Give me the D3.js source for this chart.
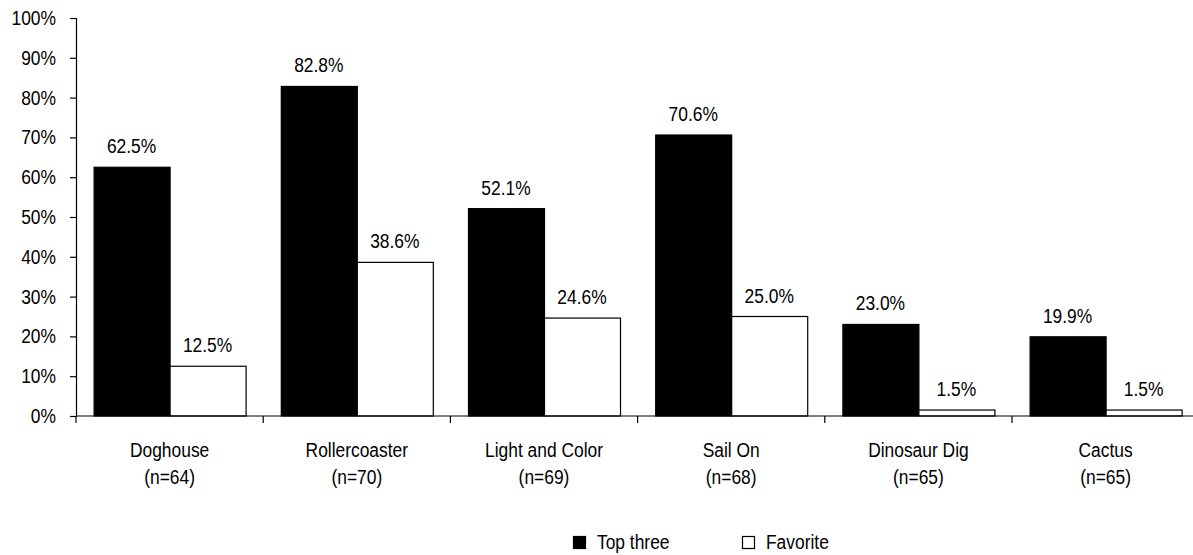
<!DOCTYPE html>
<html>
<head>
<meta charset="utf-8">
<script src="https://cdn.jsdelivr.net/npm/d3@7"></script>
<style>
  html, body { margin: 0; padding: 0; background: #fff; }
  svg text { font-family: "Liberation Sans", Arial, sans-serif; fill: #000; }
</style>
</head>
<body>
<svg id="chart" width="1193" height="555"></svg>
<script>
// Exhibit ratings by activity
const categories = ["Doghouse", "Rollercoaster", "Light and Color", "Sail On", "Dinosaur Dig", "Cactus"];
const sampleSizes = ["(n=64)", "(n=70)", "(n=69)", "(n=68)", "(n=65)", "(n=65)"];
const seriesNames = ["Top three", "Favorite"];
const topThree = [62.5, 82.8, 52.1, 70.6, 23.0, 19.9];
const favorite = [12.5, 38.6, 24.6, 25.0, 1.5, 1.5];
const yTicks = [0, 10, 20, 30, 40, 50, 60, 70, 80, 90, 100];

const seriesValues = [topThree, favorite];
const fills = ["#000000", "#ffffff"];

const svg = d3.select("#chart");
const plotLeft = 76, plotBottom = 416, plotTop = 18, step = 187.2;
const fontSize = 20;
const squeeze = 0.87; // condensed lettering

// Draws a horizontally condensed text anchored at (x, y)
function label(parent, x, y, str, anchor) {
  return parent.append("text")
    .attr("transform", `translate(${x},${y}) scale(${squeeze},1)`)
    .attr("text-anchor", anchor || "middle")
    .attr("font-size", fontSize)
    .text(str);
}

const x0 = d3.scaleBand()
  .domain(categories)
  .range([plotLeft, plotLeft + step * categories.length])
  .paddingInner(0.188)
  .paddingOuter(0.094);

const x1 = d3.scaleBand()
  .domain(seriesNames)
  .range([0, x0.bandwidth()]);

const y = d3.scaleLinear().domain([0, 100]).range([plotBottom, plotTop]);

// Y axis
const yAxis = d3.axisLeft(y)
  .tickValues(yTicks)
  .tickSize(6)
  .tickPadding(14)
  .tickFormat(d => d + "%");

const gy = svg.append("g")
  .attr("transform", `translate(${plotLeft},0)`)
  .call(yAxis);
gy.select(".domain").attr("stroke", "#000").attr("stroke-width", 1.2);
gy.selectAll(".tick line").attr("stroke", "#000").attr("stroke-width", 1.2);
gy.selectAll(".tick text")
  .attr("font-size", fontSize)
  .style("font-family", "'Liberation Sans', Arial, sans-serif")
  .attr("x", null)
  .attr("transform", `translate(-20,0) scale(${squeeze},1)`);

// Bars
categories.forEach((cat, i) => {
  const g = svg.append("g").attr("transform", `translate(${x0(cat)},0)`);
  seriesNames.forEach((s, j) => {
    const v = seriesValues[j][i];
    g.append("rect")
      .attr("x", x1(s) + 0.5)
      .attr("y", y(v))
      .attr("width", x1.bandwidth())
      .attr("height", plotBottom - y(v))
      .attr("fill", fills[j])
      .attr("stroke", "#000")
      .attr("stroke-width", 1.2);
    label(g, x1(s) + x1.bandwidth() / 2, y(v) - 14, v.toFixed(1) + "%");
  });
});

// X axis: baseline extends across the plot, ticks between categories
const xEnd = plotLeft + step * categories.length;
svg.append("line")
  .attr("x1", plotLeft).attr("x2", xEnd)
  .attr("y1", plotBottom).attr("y2", plotBottom)
  .attr("stroke", "#000").attr("stroke-width", 1.2);

const boundaries = d3.range(categories.length + 1).map(k => plotLeft + k * x0.step());
svg.selectAll(".xtick")
  .data(boundaries)
  .join("line")
  .attr("class", "xtick")
  .attr("x1", d => d).attr("x2", d => d)
  .attr("y1", plotBottom).attr("y2", plotBottom + 7)
  .attr("stroke", "#000").attr("stroke-width", 1.2);

// Category labels with sample size
categories.forEach((cat, i) => {
  const cx = x0(cat) + x0.bandwidth() / 2;
  label(svg, cx, 457, cat);
  label(svg, cx, 484, sampleSizes[i]);
});

// Legend
const legendX = [573, 742];
seriesNames.forEach((s, j) => {
  svg.append("rect")
    .attr("x", legendX[j] + 0.5)
    .attr("y", 536.5)
    .attr("width", 12)
    .attr("height", 12)
    .attr("fill", fills[j])
    .attr("stroke", "#000")
    .attr("stroke-width", 1.2);
  label(svg, legendX[j] + 24, 549, s, "start");
});
</script>
</body>
</html>
